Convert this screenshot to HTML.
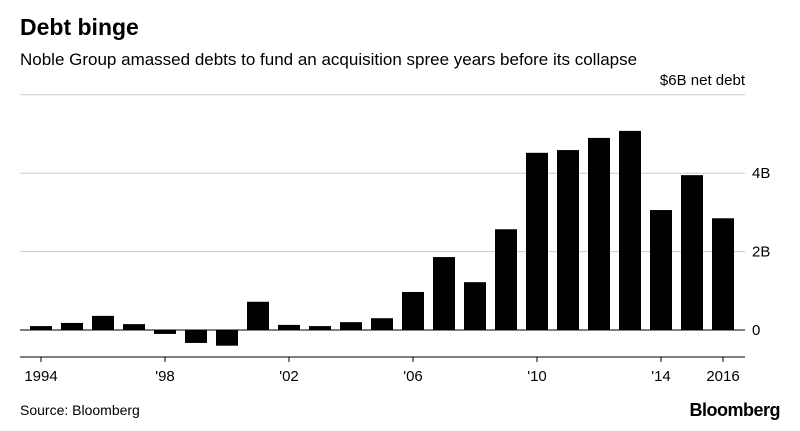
<!DOCTYPE html>
<html><head><meta charset="utf-8"><style>
body{margin:0;background:#fff;font-family:"Liberation Sans",sans-serif;}
#wrap{position:relative;width:800px;height:431px;overflow:hidden}
.t{position:absolute;white-space:nowrap;color:#000}
</style></head><body><div id="wrap">
<div class="t" style="left:20px;top:14px;font-size:23px;font-weight:bold;">Debt binge</div>
<div class="t" style="left:20px;top:50px;font-size:17px;">Noble Group amassed debts to fund an acquisition spree years before its collapse</div>
<div class="t" style="left:20px;top:402px;font-size:14px;">Source: Bloomberg</div>
<div class="t" style="right:20px;top:400px;font-size:18px;font-weight:bold;letter-spacing:-0.5px">Bloomberg</div>
<svg id="c" width="800" height="431" style="position:absolute;left:0;top:0"></svg>
</div>
<script>
const years=[1994,1995,1996,1997,1998,1999,2000,2001,2002,2003,2004,2005,2006,2007,2008,2009,2010,2011,2012,2013,2014,2015,2016];
const values=[0.1,0.18,0.36,0.15,-0.1,-0.33,-0.4,0.72,0.13,0.1,0.2,0.3,0.97,1.86,1.22,2.57,4.52,4.59,4.9,5.08,3.06,3.95,2.85];
const yTicks=[0,2,4,6];
const yTickLabels=["0","2B","4B","$6B net debt"];
const xTickYears=[1994,1998,2002,2006,2010,2014,2016];
const xTickLabels=["1994","'98","'02","'06","'10","'14","2016"];
const NS="http://www.w3.org/2000/svg",svg=document.getElementById('c');
const y=v=>330-v*39.2, x=yr=>41+(yr-1994)*31;
function mk(t,a){const e=document.createElementNS(NS,t);for(const k in a)e.setAttribute(k,a[k]);svg.appendChild(e);return e;}
yTicks.forEach((v,i)=>{
 const l=mk('line',{x1:20,x2:745,y1:y(v),y2:y(v),stroke:v===0?'#000':'#ccc','stroke-width':1});
 
 
 const t=mk('text',{x:i===3?745:752,y:y(v)+(i===3?-10:5),'font-size':15,'text-anchor':i===3?'end':'start','font-family':'Liberation Sans'});
 t.textContent=yTickLabels[i];
 
 
});
years.forEach((yr,i)=>{
 const v=values[i];
 const r=mk('rect',{x:x(yr)-11,width:22,y:Math.min(y(v),y(0)),height:Math.abs(y(v)-y(0)),fill:'#000'});
 
 
});
mk('line',{x1:20,x2:745,y1:y(0),y2:y(0),stroke:'#000','stroke-width':1});
mk('line',{x1:20,x2:745,y1:357,y2:357,stroke:'#000','stroke-width':1});
xTickYears.forEach((yr,i)=>{
 const tk=mk('line',{x1:x(yr),x2:x(yr),y1:357,y2:362,stroke:'#000'});
 
 
 const t=mk('text',{x:x(yr),y:381,'font-size':15,'text-anchor':'middle','font-family':'Liberation Sans'});
 t.textContent=xTickLabels[i];
 
 
});
</script></body></html>
